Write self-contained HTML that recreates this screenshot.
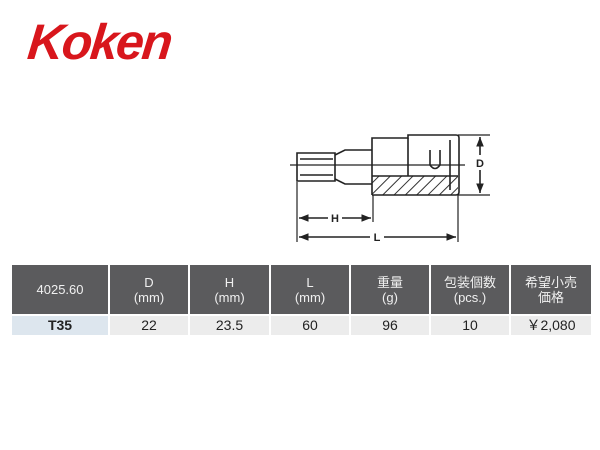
<!DOCTYPE html>
<html><head><meta charset="utf-8"><style>
body{margin:0;width:600px;height:450px;background:#fff;position:relative;overflow:hidden;font-family:"Liberation Sans","Noto Sans CJK JP",sans-serif}
.logo{position:absolute;left:28px;top:13px;font:italic bold 50px "Liberation Sans",sans-serif;color:#d8161c;letter-spacing:-2px;transform:skewX(-6deg)}
table{position:absolute;left:12px;top:265px;border-collapse:collapse;table-layout:fixed}
td{text-align:center;padding:0;border-right:2px solid #fff;font-size:13px;line-height:15px}
td:last-child{border-right:none}
tr.h td{background:#5b5b5d;color:#f0f0f0;height:49px;border-bottom:2px solid #fff}
tr.d td{background:#ececec;color:#222;height:19px;font-size:14px}
tr.d td:first-child{background:#dde6ee;font-weight:bold}
</style></head><body>
<div class="logo">Koken</div>
<svg width="600" height="450" style="position:absolute;left:0;top:0">
<defs><pattern id="hp" width="8" height="8" patternUnits="userSpaceOnUse" patternTransform="rotate(45)"><line x1="0" y1="0" x2="0" y2="8" stroke="#333" stroke-width="2"/></pattern>
<marker id="a" viewBox="0 0 10 10" refX="10" refY="5" markerWidth="6" markerHeight="6" orient="auto-start-reverse"><path d="M0,1 L10,5 L0,9z" fill="#222"/></marker></defs>
<g stroke="#222" stroke-width="1.6" fill="none">
<rect x="372" y="176" width="86" height="19" fill="url(#hp)" stroke="none"/>
<path d="M297,153 L335,153 L335,181 L297,181 Z"/>
<path d="M300,159 L333,159 M300,175 L333,175 M335,155 L345,150 L372,150 M335,179 L345,184 L372,184"/>
<path d="M372,195 L372,138 L408,138 L408,135 L456,135 Q459,135 459,138 L459,192 Q459,195 456,195 L372,195"/>
<path d="M408,138 L408,176 M372,176 L458,176 M450,140 L450,190"/>
<path d="M430,150 L430,165 Q435,172 440,165 L440,150"/>
<line x1="290" y1="165" x2="465" y2="165" stroke-width="1.2"/>
<path d="M297,182 L297,242 M373,195 L373,222 M458,195 L458,242 M458,135 L490,135 M458,195 L490,195" stroke-width="1.2"/>
<line x1="480" y1="137" x2="480" y2="155" marker-start="url(#a)"/>
<line x1="480" y1="170" x2="480" y2="193" marker-end="url(#a)"/>
<line x1="299" y1="218" x2="328" y2="218" marker-start="url(#a)"/>
<line x1="342" y1="218" x2="371" y2="218" marker-end="url(#a)"/>
<line x1="299" y1="237" x2="370" y2="237" marker-start="url(#a)"/>
<line x1="384" y1="237" x2="456" y2="237" marker-end="url(#a)"/>
</g>
<g font-family="Liberation Sans" font-weight="bold" font-size="11" fill="#222" text-anchor="middle">
<text x="480" y="167">D</text><text x="335" y="222">H</text><text x="377" y="241">L</text></g>
</svg>
<table>
<colgroup><col style="width:97px"><col style="width:80px"><col style="width:81px"><col style="width:80px"><col style="width:80px"><col style="width:80px"><col style="width:81px"></colgroup>
<tr class="h"><td>4025.60</td><td>D<br>(mm)</td><td>H<br>(mm)</td><td>L<br>(mm)</td><td>重量<br>(g)</td><td>包装個数<br>(pcs.)</td><td>希望小売<br>価格</td></tr>
<tr class="d"><td>T35</td><td>22</td><td>23.5</td><td>60</td><td>96</td><td>10</td><td>￥2,080</td></tr>
</table>
</body></html>
